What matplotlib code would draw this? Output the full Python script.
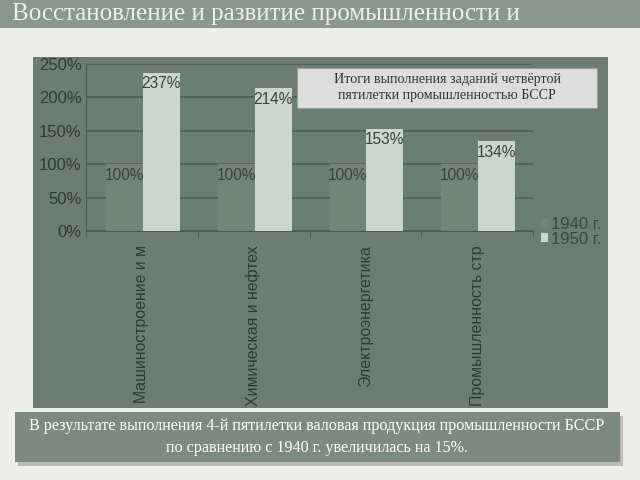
#!/usr/bin/env python3
"""
Bar chart: results of the 4th five-year plan for BSSR industry (1940 vs 1950).
"""

import matplotlib.pyplot as plt
from matplotlib.patches import Rectangle
import numpy as np

categories = ["Машиностроение и м", "Химическая и нефтех",
              "Электроэнергетика", "Промышленность стр"]
values_1940 = [100, 100, 100, 100]
values_1950 = [237, 214, 153, 134]
series_names = ["1940 г.", "1950 г."]
yticks = [0, 50, 100, 150, 200, 250]

title = "Восстановление и развитие промышленности и"
box_title = "Итоги выполнения заданий четвёртой\nпятилетки промышленностью БССР"
footer = ("В результате выполнения 4-й пятилетки валовая продукция промышленности БССР\n"
          "по сравнению с 1940 г. увеличилась на 15%.")

PANEL = "#6c7d73"
DARK = "#323a35"
SERIF = ["Liberation Serif", "DejaVu Serif"]
SANS = ["Liberation Sans", "DejaVu Sans"]

fig = plt.figure(figsize=(6.4, 4.8), dpi=100)
fig.patch.set_facecolor("#eeeeea")

# title bar
fig.patches.append(Rectangle((0, 1 - 28 / 480), 1, 28 / 480, transform=fig.transFigure,
                             facecolor="#8a978e", edgecolor="none", zorder=-2))
fig.text(12 / 640, 1 - 14 / 480, title, family=SERIF, fontsize=18, color="#eeefeb",
         va="center", ha="left")

# chart panel
panel = Rectangle((33 / 640, 1 - 408 / 480), 575 / 640, 351 / 480, transform=fig.transFigure,
                  facecolor=PANEL, edgecolor="none", zorder=-2)
fig.patches.append(panel)

ax = fig.add_axes([86 / 640, 1 - 231 / 480, 447 / 640, 167 / 480])
ax.set_facecolor("none")
x = np.arange(len(categories))
w = 0.33
b1 = ax.bar(x + 0.18, values_1940, width=w, align="edge", color="#738579", zorder=3)
b2 = ax.bar(x + 0.18 + w, values_1950, width=w, align="edge", color="#cdd6ce", zorder=3)

for bars in (b1, b2):
    for rect in bars:
        ax.annotate(f"{rect.get_height():.0f}%",
                    (rect.get_x() + rect.get_width() / 2, rect.get_height()),
                    xytext=(0, -8), textcoords="offset points", ha="center", va="center",
                    fontsize=11.2, color="#3a413c", family=SANS, zorder=4)

ax.set_xlim(0, len(categories))
ax.set_ylim(0, 250)
ax.set_yticks(yticks)
ax.set_yticklabels([f"{v}%" for v in yticks], family=SANS, fontsize=12, color=DARK)
ax.grid(axis="y", color="#4d5a52", linewidth=1.1, zorder=1)
ax.set_axisbelow(True)
for s in ["top", "right"]:
    ax.spines[s].set_visible(False)
for s in ["left", "bottom"]:
    ax.spines[s].set_color("#4d5a52")
ax.tick_params(axis="y", length=0, pad=3)

ax.set_xticks(x + 0.5)
ax.set_xticklabels(categories, rotation=90, family=SANS, fontsize=11.4, color=DARK)
ax.set_xticks(np.arange(len(categories) + 1), minor=True)
ax.tick_params(axis="x", which="major", length=0, pad=10)
ax.tick_params(axis="x", which="minor", length=4, color="#4d5a52")
for lbl in ax.get_xticklabels():
    lbl.set_clip_path(panel)

leg = ax.legend([b1, b2], series_names, loc="upper left", bbox_to_anchor=(534 / 640, 1 - 210 / 480),
                bbox_transform=fig.transFigure, frameon=False, handlelength=0.45,
                handleheight=0.45, handletextpad=0.15, labelspacing=0.0, borderaxespad=0,
                prop={"family": SANS, "size": 12})
for t in leg.get_texts():
    t.set_color("#3a4540")

# chart title box
fig.patches.append(Rectangle((297 / 640, 1 - 108 / 480), 300 / 640, 40 / 480,
                             transform=fig.transFigure, facecolor="#dcdddc",
                             edgecolor="#9a9f9b", linewidth=0.8, zorder=5))
fig.text(447 / 640, 1 - 88 / 480, box_title, family=SERIF, fontsize=10.1, color="#333333",
         ha="center", va="center", linespacing=1.3, zorder=6)

# footer box with shadow
fig.patches.append(Rectangle((18 / 640, 1 - 466 / 480), 605 / 640, 50 / 480,
                             transform=fig.transFigure, facecolor="#b9bcb8",
                             edgecolor="none", zorder=1))
fig.patches.append(Rectangle((15 / 640, 1 - 462 / 480), 605 / 640, 50 / 480,
                             transform=fig.transFigure, facecolor="#7c8a81",
                             edgecolor="none", zorder=2))
fig.text(317 / 640, 1 - 437 / 480, footer, family=SERIF, fontsize=11.6, color="#ffffff",
         ha="center", va="center", linespacing=1.45, zorder=3)

plt.savefig("out.png", dpi=100)
plt.close()
